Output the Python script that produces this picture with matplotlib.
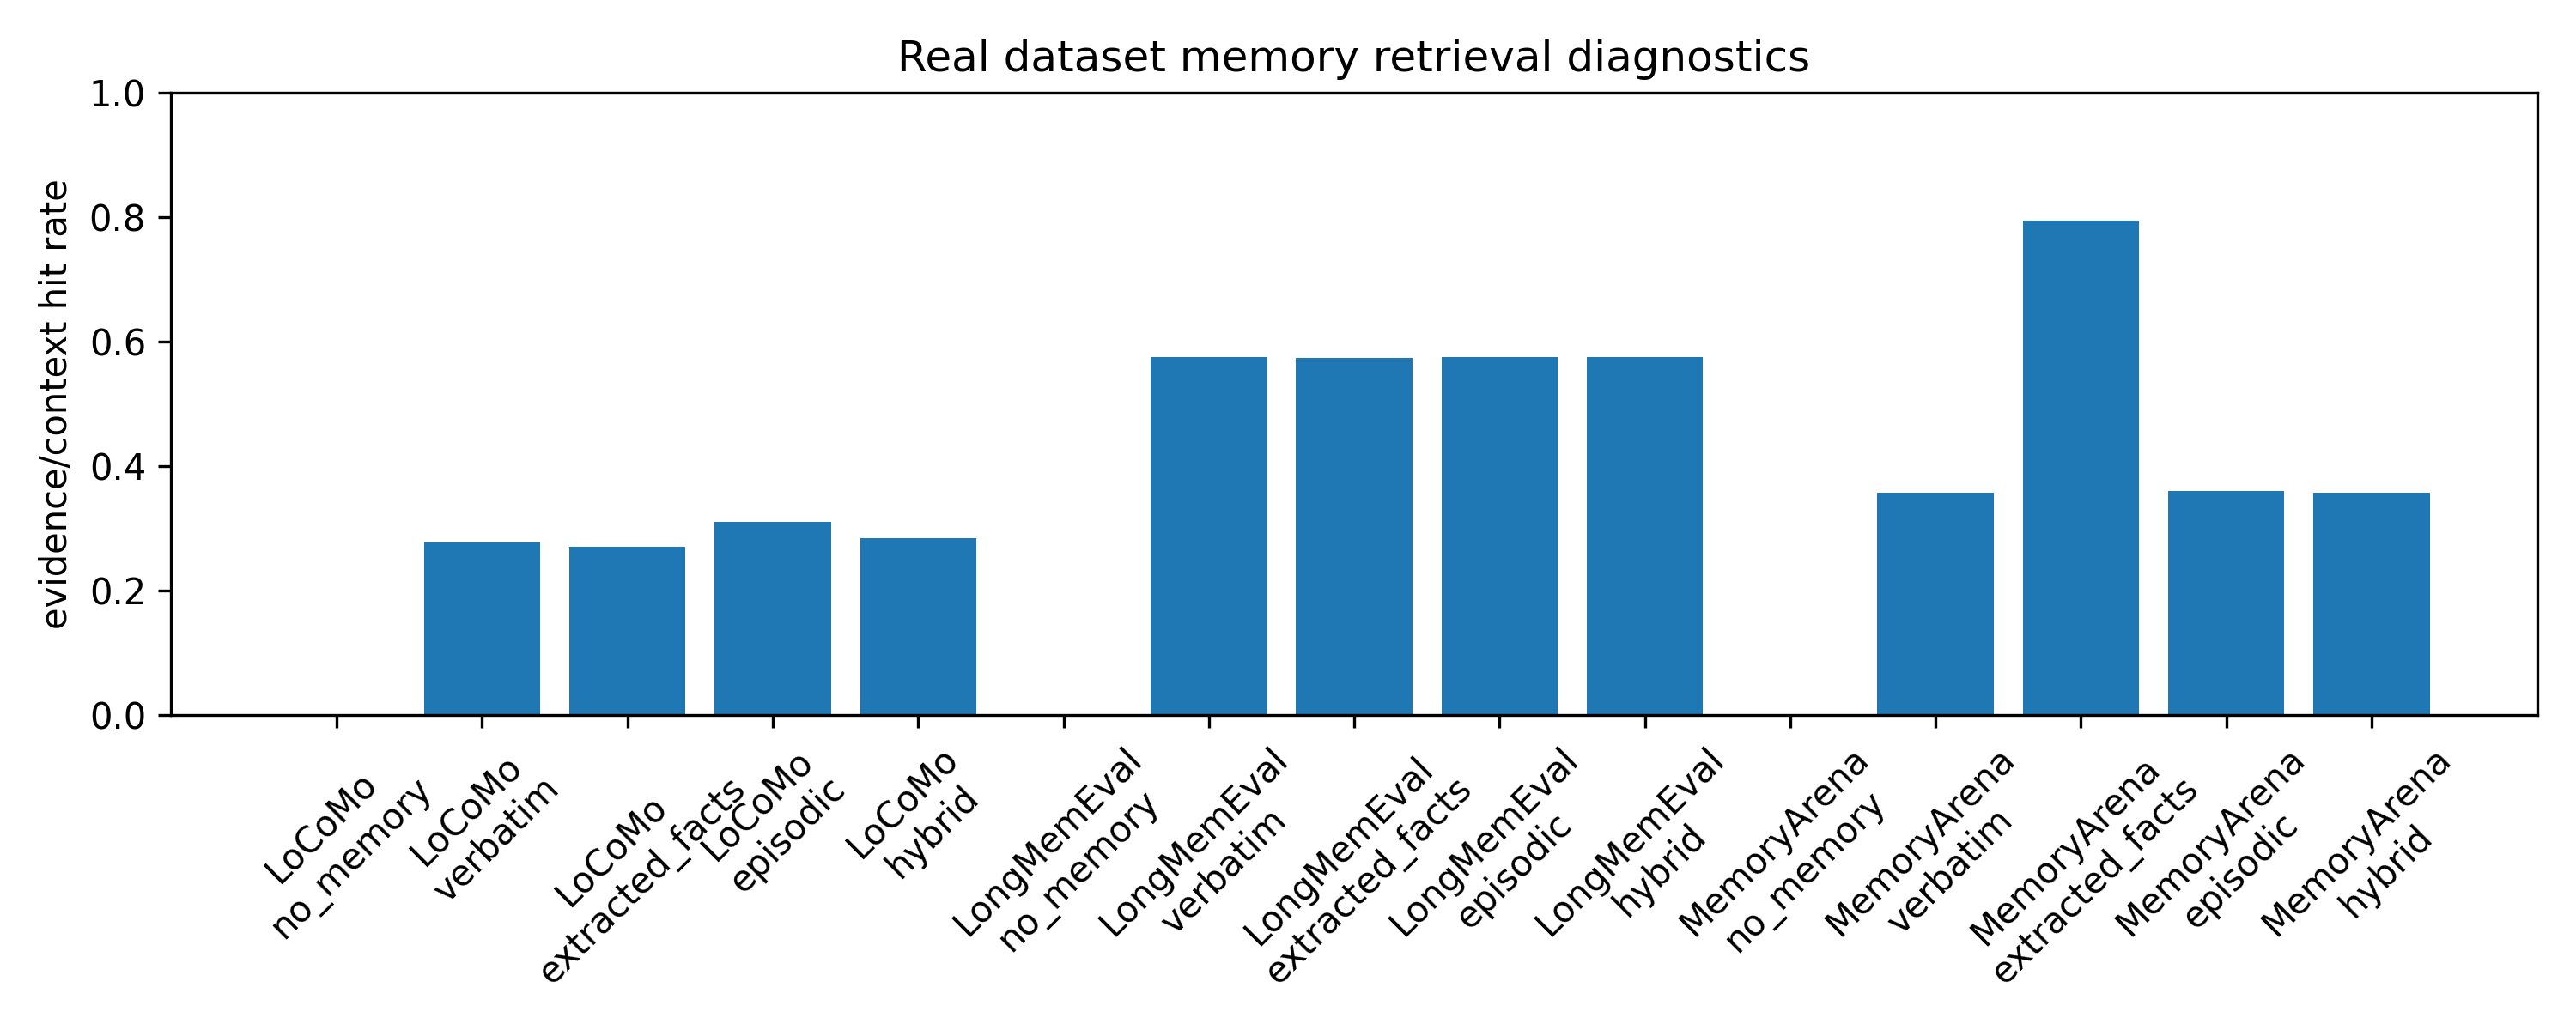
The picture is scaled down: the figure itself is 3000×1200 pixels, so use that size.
import matplotlib
matplotlib.use("Agg")
import matplotlib.pyplot as plt

# retrieval diagnostics per dataset / memory mode
datasets = ["LoCoMo", "LongMemEval", "MemoryArena"]
modes = ["no_memory", "verbatim", "extracted_facts", "episodic", "hybrid"]
locomo_hits = [0.0, 0.278, 0.271, 0.311, 0.285]
longmemeval_hits = [0.0, 0.575, 0.574, 0.575, 0.575]
memoryarena_hits = [0.0, 0.357, 0.794, 0.360, 0.357]

labels = []
values = []
for name, hits in zip(datasets, [locomo_hits, longmemeval_hits, memoryarena_hits]):
    for mode, h in zip(modes, hits):
        labels.append("%s\n%s" % (name, mode))
        values.append(h)

fig, ax = plt.subplots(figsize=(10, 4), dpi=300)
x = range(len(labels))
ax.bar(x, values)
ax.set_xticks(list(x))
ax.set_xticklabels(labels, rotation=45)
ax.set_ylim(0, 1)
ax.set_ylabel("evidence/context hit rate")
ax.set_title("Real dataset memory retrieval diagnostics")
plt.tight_layout()
plt.savefig("out.png")
